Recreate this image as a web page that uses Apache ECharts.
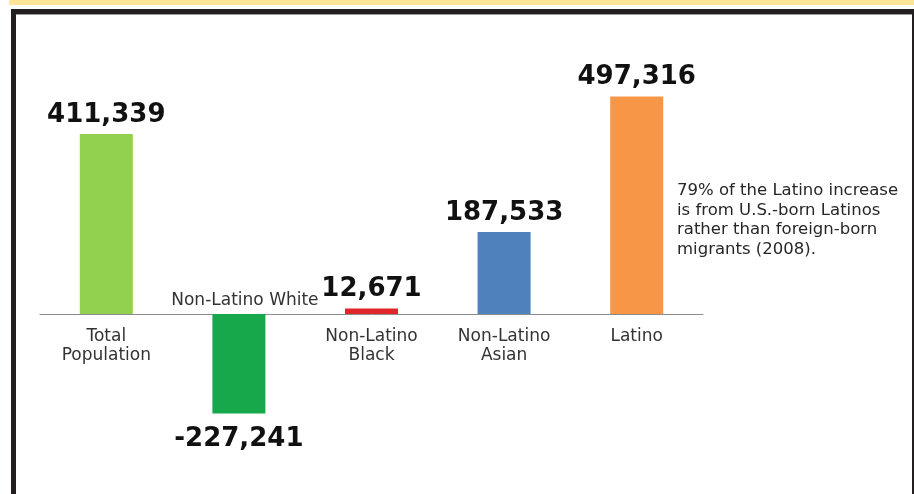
<!DOCTYPE html>
<html>
<head>
<meta charset="utf-8">
<script src="https://cdn.jsdelivr.net/npm/echarts@6/dist/echarts.min.js"></script>
<style>
html,body{margin:0;padding:0;background:#fff;}
#c{width:914px;height:494px;}
</style>
</head>
<body>
<div id="c"></div>
<script>
var categories = ['Total\nPopulation', 'Non-Latino White', 'Non-Latino\nBlack', 'Non-Latino\nAsian', 'Latino'];
var values = [411339, -227241, 12671, 187533, 497316];
var barColors = ['#92d050', '#17a84b', '#e0262b', '#4f81bd', '#f79646'];
var noteLines = ['79% of the Latino increase', 'is from U.S.-born Latinos', 'rather than foreign-born', 'migrants (2008).'];
var aboveAxisCategory = 'Non-Latino White';
var yMin = -400000, yMax = 600000;

var FONT = 'DejaVu Sans';
var GRID_TOP = 51.5, GRID_H = 437.6;
var chart = echarts.init(document.getElementById('c'), null, {renderer: 'canvas'});

function fmt(v) { return v.toLocaleString('en-US'); }

var barData = values.map(function (v, i) {
  return {
    value: v,
    itemStyle: {color: barColors[i]},
    label: {position: v < 0 ? 'bottom' : 'top', distance: v < 0 ? 13 : 6}
  };
});

// move the category axis from the grid bottom up to the zero line of the value scale
var zeroOffset = -((0 - yMin) / (yMax - yMin)) * GRID_H;

chart.setOption({
  animation: false,
  backgroundColor: '#ffffff',
  grid: {left: 40, right: 211, top: GRID_TOP, height: GRID_H, containLabel: false, outerBoundsMode: 'none'},
  xAxis: {
    type: 'category',
    data: categories,
    offset: zeroOffset,
    axisLine: {onZero: false, lineStyle: {color: '#8c8c8c', width: 1}},
    axisTick: {show: false},
    splitLine: {show: false},
    axisLabel: {
      color: '#333333', fontFamily: FONT, fontSize: 17, lineHeight: 19, margin: 13,
      interval: 0,
      formatter: function (val) { return val === aboveAxisCategory ? '' : val; }
    }
  },
  yAxis: {
    type: 'value', min: yMin, max: yMax, show: false,
    splitLine: {show: false}
  },
  series: [
    {
      type: 'bar',
      data: barData,
      barWidth: 53,
      label: {
        show: true, fontFamily: FONT, fontSize: 26, fontWeight: 'bold', color: '#111111',
        formatter: function (p) { return fmt(p.value); }
      }
    },
    {
      type: 'scatter',
      data: [[aboveAxisCategory, 0]],
      symbolSize: 0,
      silent: true,
      itemStyle: {opacity: 1},
      label: {
        show: true, position: 'top', distance: 5, offset: [6, 0], opacity: 1,
        fontFamily: FONT, fontSize: 17, color: '#333333',
        formatter: function () { return aboveAxisCategory; }
      }
    }
  ],
  graphic: [
    {type: 'rect', shape: {x: 9, y: 0, width: 905, height: 5}, style: {fill: '#fde698'}, silent: true},
    {type: 'rect', shape: {x: 11, y: 9, width: 903, height: 5}, style: {fill: '#231f20'}, silent: true},
    {type: 'rect', shape: {x: 16, y: 14, width: 898, height: 1}, style: {fill: '#9a9a9a'}, silent: true},
    {type: 'rect', shape: {x: 11, y: 9, width: 5, height: 485}, style: {fill: '#231f20'}, silent: true},
    {type: 'rect', shape: {x: 912, y: 9, width: 2, height: 485}, style: {fill: '#231f20'}, silent: true},
    {
      type: 'text', left: 677, top: 181, silent: true,
      style: {
        text: noteLines.join('\n'), fontFamily: FONT, fontSize: 16.5, lineHeight: 19.5,
        fill: '#262626'
      }
    }
  ]
});
</script>
</body>
</html>
